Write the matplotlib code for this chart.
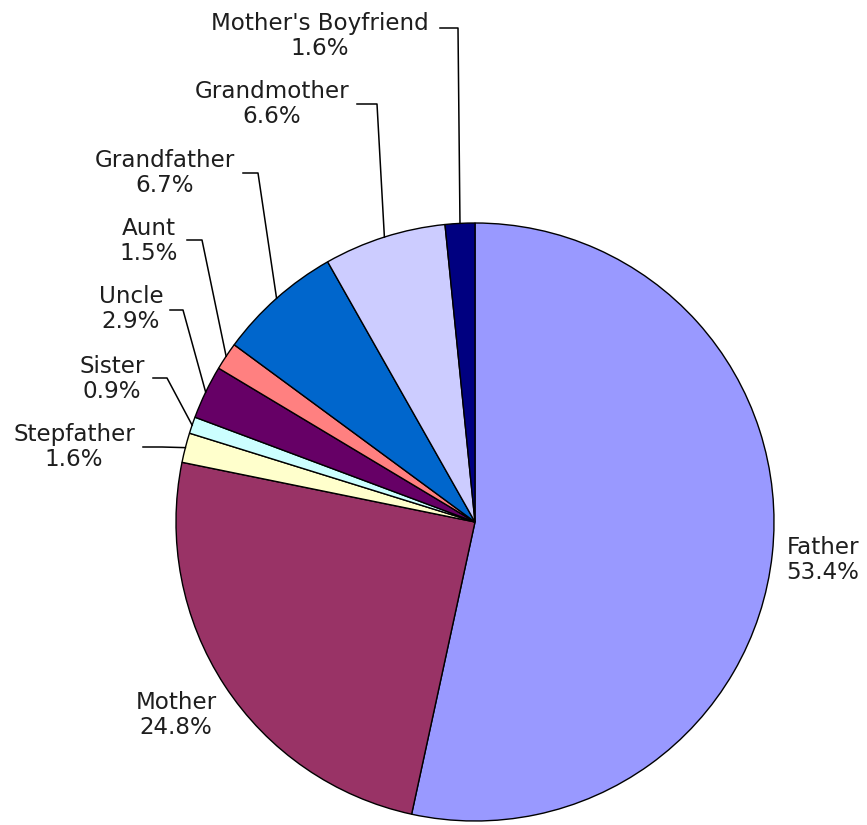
import numpy as np
import matplotlib
matplotlib.use("Agg")
import matplotlib.pyplot as plt

# datos del grafico (porcentajes)
relaciones = ["Father", "Mother", "Stepfather", "Sister", "Uncle", "Aunt",
              "Grandfather", "Grandmother", "Mother's Boyfriend"]
porcentajes = [53.4, 24.8, 1.6, 0.9, 2.9, 1.5, 6.7, 6.6, 1.6]
colores = ["#9999FF", "#993366", "#FFFFCC", "#CCFFFF", "#660066", "#FF8080",
           "#0066CC", "#CCCCFF", "#000080"]

W, H = 867, 825
fig = plt.figure(figsize=(W / 100, H / 100), dpi=100)
ax = fig.add_axes([0, 0, 1, 1])

cx, cy, r = 475, H - 522, 299

wedges, _ = ax.pie(porcentajes, colors=colores, startangle=90, counterclock=False,
                   center=(cx, cy), radius=r, frame=True,
                   wedgeprops=dict(edgecolor="black", linewidth=1.0))
ax.set_xlim(0, W)
ax.set_ylim(0, H)
ax.set_aspect("equal")
ax.axis("off")

# posicion de las etiquetas (centro del texto, en pixeles de imagen)
pos_texto = {
    "Father": (823, 560),
    "Mother": (176, 715),
    "Stepfather": (74, 447),
    "Sister": (112, 379),
    "Uncle": (131, 309),
    "Aunt": (149, 241),
    "Grandfather": (165, 173),
    "Grandmother": (272, 104),
    "Mother's Boyfriend": (320, 36),
}
# lineas guia: inicio y codo (pixeles de imagen)
guias = {
    "Stepfather": [(143, 447), (162, 447)],
    "Sister": [(153, 378), (167, 378)],
    "Uncle": [(170, 310), (183, 310)],
    "Aunt": [(187, 240), (202, 240)],
    "Grandfather": [(243, 173), (258, 173)],
    "Grandmother": [(357, 104), (377, 104)],
    "Mother's Boyfriend": [(440, 28), (458, 28)],
}

for w, nombre, p in zip(wedges, relaciones, porcentajes):
    tx, ty = pos_texto[nombre]
    ax.text(tx, H - ty, f"{nombre}\n{p:.1f}%", ha="center", va="center",
            fontsize=16.6, color="#1e1e1e", linespacing=1.15)
    if nombre in guias:
        ang = np.deg2rad((w.theta1 + w.theta2) / 2)
        ex, ey = cx + r * np.cos(ang), cy + r * np.sin(ang)
        pts = [(x, H - y) for x, y in guias[nombre]] + [(ex, ey)]
        xs, ys = zip(*pts)
        ax.plot(xs, ys, color="black", linewidth=1.1)

fig.savefig("out.png", dpi=100, facecolor="white")
